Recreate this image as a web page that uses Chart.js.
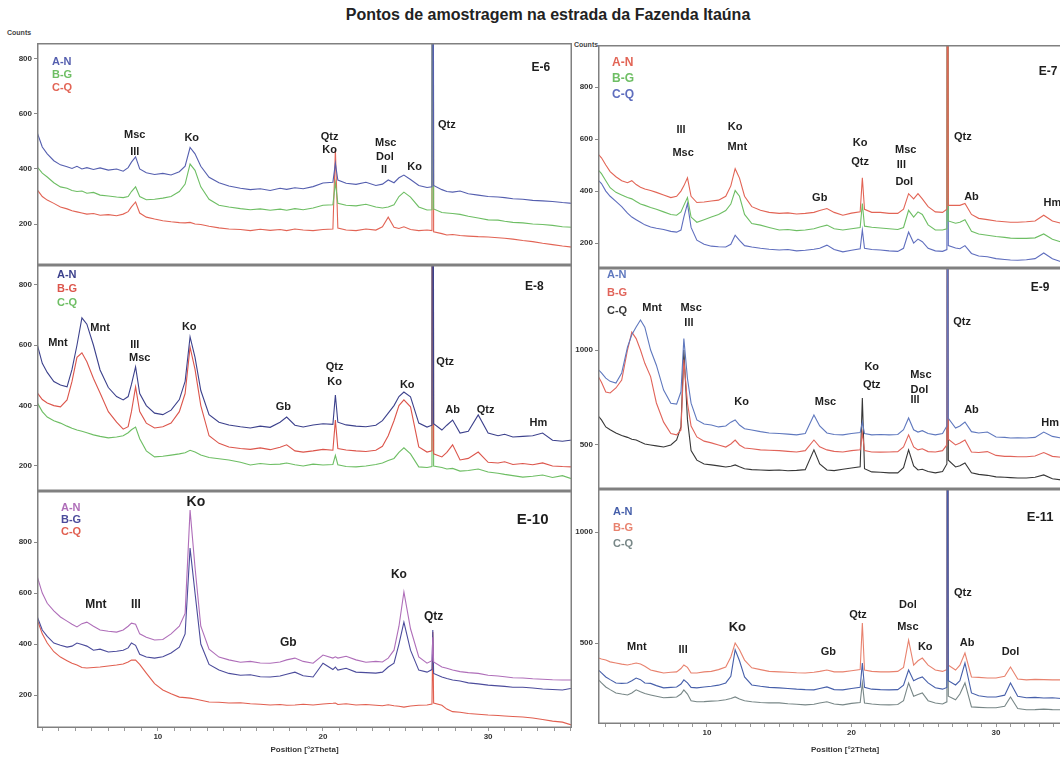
<!DOCTYPE html>
<html>
<head>
<meta charset="utf-8">
<script src="https://cdn.jsdelivr.net/npm/chart.js@4.4.1/dist/chart.umd.min.js"></script>
<style>
  html, body { margin: 0; padding: 0; background: #fff; overflow: hidden; }
  #wrap { position: relative; width: 1060px; height: 758px; overflow: hidden; background: #fff; }
  #wrap canvas { position: absolute; }
  .txt { position: absolute; font-family: "Liberation Sans", Arial, sans-serif; font-weight: bold; color: #222; white-space: nowrap; }
</style>
</head>
<body>
<div id="wrap">
  <div class="txt" style="left:0;width:1096px;top:6px;text-align:center;font-size:16px;">Pontos de amostragem na estrada da Fazenda Itaúna</div>
  <div class="txt" style="left:7px;top:29px;font-size:7px;color:#444;">Counts</div>
  <div class="txt" style="left:574px;top:41px;font-size:7px;color:#444;">Counts</div>
</div>
<script>
// XRD diffractograms - Fazenda Itaúna road sampling points

const FONT = '"Liberation Sans", Arial, Helvetica, sans-serif';

// position axis (°2Theta), shared by all traces
const twoTheta = [
  2.5, 2.7, 3.0, 3.3, 3.7, 4.1, 4.5, 4.8, 5.1, 5.4,
  5.7, 6.1, 6.5, 7.0, 7.5, 7.9, 8.2, 8.4, 8.65, 8.9,
  9.3, 9.8, 10.3, 10.8, 11.3, 11.65, 11.95, 12.25, 12.6, 13.1,
  13.7, 14.3, 15.0, 15.6, 16.2, 16.8, 17.4, 17.8, 18.3, 18.8,
  19.4, 20.0, 20.6, 20.75, 20.9, 21.4, 22.0, 22.6, 23.2, 23.6,
  23.95, 24.3, 24.6, 24.9, 25.3, 25.8, 26.3, 26.6, 26.65, 26.7,
  27.2, 27.5, 27.85, 28.3, 28.8, 29.4, 30.0, 30.6, 31.0, 31.5,
  32.1, 32.7, 33.3, 33.9, 34.5, 35.1, 36.0, 36.6
];

const legendNames = ['A-N', 'B-G', 'C-Q'];
const xTickLabels = [10, 20, 30];

// E-6
const e6AN = [
  560, 531, 480, 455, 430, 415, 408, 402, 410, 400,
  405, 398, 404, 396, 400, 392, 405, 425, 444, 400,
  386, 380, 384, 378, 390, 410, 478, 455, 410, 370,
  350, 338, 330, 325, 328, 322, 330, 326, 332, 328,
  336, 349, 352, 420, 360, 348, 344, 352, 340, 345,
  360, 350, 368, 378, 362, 340, 333, 335, 3000, 340,
  325, 318, 316, 320, 310, 305, 300, 298, 296, 292,
  290, 286, 284, 282, 278, 275, 272, 270
];
const e6BG = [
  430, 407, 385, 371, 350, 335, 330, 322, 318, 320,
  312, 315, 305, 302, 298, 296, 300, 318, 335, 300,
  288, 290, 294, 300, 318, 345, 418, 395, 335, 290,
  268, 262, 256, 252, 255, 250, 254, 250, 256, 252,
  258, 268, 270, 350, 275, 268, 266, 272, 262, 258,
  262, 270, 300, 316, 298, 262, 251, 252, 3000, 255,
  242, 240, 238, 235, 228, 222, 215, 214, 210, 206,
  204, 200, 198, 195, 190, 188, 185, 183
];
const e6CQ = [
  345, 324, 300, 287, 275, 262, 255, 248, 244, 240,
  236, 238, 232, 234, 230, 236, 245, 262, 280, 240,
  225, 218, 212, 208, 205, 204, 206, 200, 198, 192,
  186, 182, 180, 176, 181, 177, 180, 176, 182, 178,
  176, 180, 182, 470, 185, 178, 176, 182, 178, 190,
  225, 188, 184, 190, 180, 176, 178, 176, 3000, 172,
  165, 160, 162, 158, 156, 154, 153, 150, 148, 145,
  140, 136, 130, 125, 120, 116, 112, 110
];

// E-7
const e7AN = [
  540, 528, 500, 475, 455, 440, 432, 440, 425, 415,
  408, 402, 395, 385, 375, 380, 400, 420, 451, 380,
  356, 358, 362, 365, 380, 420, 486, 450, 380, 340,
  326, 318, 314, 316, 312, 314, 318, 325, 333, 318,
  307, 315, 320, 451, 330, 318, 318, 314, 314, 330,
  390, 370, 390, 370, 340, 320, 318, 330, 3000, 345,
  345, 345, 352, 310, 295, 290, 285, 282, 280, 280,
  282, 285, 307, 285, 276, 275, 272, 270
];
const e7BG = [
  480, 467, 440, 413, 395, 385, 375, 370, 360, 350,
  345, 337, 330, 320, 310, 307, 320, 345, 375, 300,
  280, 290, 300, 310, 325, 350, 402, 380, 310, 275,
  269, 260, 250, 252, 248, 250, 255, 262, 269, 255,
  250, 255, 260, 352, 265, 261, 258, 255, 252, 260,
  326, 300, 320, 310, 270, 250, 250, 255, 3000, 285,
  276, 280, 290, 245, 235, 230, 225, 222, 219, 218,
  218, 220, 235, 215, 204, 205, 202, 200
];
const e7CQ = [
  440, 429, 400, 380, 360, 340, 315, 300, 290, 280,
  270, 262, 257, 252, 245, 242, 250, 300, 352, 260,
  211, 195, 188, 186, 185, 195, 230, 210, 190, 185,
  180, 176, 173, 175, 170, 172, 176, 180, 192, 175,
  166, 172, 178, 250, 180, 175, 173, 170, 168, 180,
  242, 200, 215, 205, 180, 170, 168, 175, 3000, 190,
  181, 178, 190, 160, 150, 147, 140, 137, 135, 134,
  136, 140, 162, 140, 128, 130, 126, 125
];

// E-8
const e8AN = [
  640, 601, 540, 510, 480, 468, 462, 520, 600, 691,
  670, 600, 518, 460, 430, 419, 430, 470, 528, 440,
  400, 375, 370, 385, 420, 480, 628, 560, 450, 370,
  345, 336, 330, 326, 332, 328, 345, 362, 335, 329,
  336, 340, 338, 435, 345, 336, 332, 330, 335, 350,
  375, 400, 430, 445, 429, 342, 329, 335, 3000, 340,
  319, 335, 352, 309, 315, 369, 309, 300, 305, 296,
  298, 300, 309, 285, 282, 286, 280, 278
];
const e8BG = [
  470, 442, 420, 409, 400, 396, 419, 480, 560, 575,
  545, 490, 442, 380, 345, 322, 330, 380, 462, 380,
  342, 326, 330, 342, 380, 440, 594, 520, 400, 300,
  275, 263, 258, 255, 260, 254, 262, 270, 250, 246,
  250, 255, 252, 352, 258, 253, 250, 248, 252, 265,
  300, 350, 400, 419, 396, 263, 246, 250, 3000, 240,
  230, 245, 270, 220, 225, 246, 212, 210, 214, 205,
  208, 204, 210, 200, 198, 197, 195, 194
];
const e8CQ = [
  440, 409, 380, 362, 350, 342, 332, 325, 319, 315,
  310, 303, 298, 293, 296, 300, 310, 320, 329, 290,
  250, 230, 232, 236, 240, 244, 252, 246, 236, 228,
  224, 220, 212, 203, 208, 205, 206, 210, 204, 200,
  206, 203, 205, 235, 204, 198, 197, 200, 205, 210,
  218, 225, 245, 260, 240, 197, 195, 198, 3000, 200,
  195, 190, 192, 183, 185, 190, 180, 176, 172, 168,
  163, 166, 170, 162, 168, 157, 152, 150
];

// E-9
const e9AN = [
  895, 880, 852, 835, 826, 879, 1015, 1080, 1121, 1158,
  1120, 1000, 920, 789, 720, 715, 780, 1060, 850, 720,
  632, 610, 605, 595, 600, 620, 632, 605, 585, 579,
  570, 563, 560, 557, 553, 560, 658, 600, 563, 555,
  553, 560, 565, 620, 560, 553, 555, 553, 555, 580,
  642, 580, 568, 575, 560, 553, 560, 600, 3000, 640,
  589, 600, 621, 570, 563, 568, 542, 540, 537, 538,
  537, 540, 568, 545, 537, 535, 526, 524
];
const e9BG = [
  858, 830, 779, 774, 800, 842, 1000, 1094, 1060, 1000,
  930, 860, 721, 620, 560, 553, 579, 950, 720, 600,
  542, 520, 511, 500, 489, 505, 526, 500, 484, 480,
  474, 472, 470, 466, 463, 470, 526, 490, 474, 466,
  463, 470, 475, 563, 470, 463, 462, 463, 465, 490,
  553, 490, 474, 480, 465, 463, 470, 500, 3000, 530,
  500, 510, 526, 463, 460, 465, 445, 440, 440, 438,
  438, 442, 460, 440, 435, 433, 430, 428
];
const e9CQ = [
  650, 632, 595, 580, 563, 550, 540, 530, 526, 515,
  505, 500, 495, 489, 500, 526, 595, 1000, 632, 470,
  420, 400, 395, 390, 384, 388, 395, 385, 375, 370,
  368, 366, 368, 364, 366, 370, 474, 400, 368, 365,
  372, 379, 385, 747, 375, 358, 356, 353, 353, 380,
  474, 390, 368, 372, 360, 353, 360, 400, 3000, 420,
  384, 390, 405, 353, 345, 340, 332, 330, 328, 326,
  326, 330, 342, 322, 316, 312, 305, 302
];

// E-10
const e10AN = [
  700, 663, 600, 560, 530, 506, 490, 478, 467, 480,
  486, 470, 455, 450, 447, 455, 470, 482, 478, 440,
  427, 416, 418, 440, 470, 520, 925, 700, 470, 380,
  349, 338, 329, 332, 326, 325, 330, 338, 345, 332,
  325, 357, 345, 350, 345, 352, 338, 329, 332, 330,
  345, 376, 470, 604, 460, 350, 325, 335, 427, 330,
  310, 305, 298, 292, 288, 285, 278, 275, 272, 268,
  267, 264, 262, 260, 259, 259, 258, 256
];
const e10BG = [
  540, 506, 455, 430, 404, 395, 388, 392, 404, 398,
  392, 376, 380, 369, 372, 376, 385, 404, 395, 360,
  349, 345, 350, 365, 388, 440, 776, 600, 400, 320,
  298, 285, 278, 280, 272, 271, 275, 282, 290, 276,
  271, 325, 300, 310, 298, 305, 290, 288, 286, 290,
  310, 325, 400, 486, 376, 298, 290, 300, 455, 285,
  271, 265, 259, 255, 248, 244, 239, 236, 234, 231,
  231, 228, 224, 222, 220, 227, 222, 220
];
const e10CQ = [
  520, 494, 440, 404, 370, 349, 335, 325, 318, 308,
  306, 308, 310, 314, 318, 322, 330, 337, 337, 320,
  286, 245, 220, 205, 192, 190, 188, 185, 180, 173,
  172, 169, 170, 166, 164, 161, 163, 160, 161, 164,
  161, 165, 168, 169, 163, 166, 161, 163, 160, 158,
  162, 158, 156, 153, 157, 160, 161, 165, 447, 169,
  160, 145, 135, 133, 128, 125, 122, 120, 118, 116,
  114, 110, 104, 98, 94, 82, 78, 76
];

// E-11
const e11AN = [
  378, 365, 347, 335, 320, 318, 320, 330, 342, 335,
  320, 318, 308, 298, 300, 302, 315, 334, 320, 300,
  298, 302, 305, 310, 320, 350, 469, 420, 347, 311,
  305, 300, 298, 295, 292, 290, 289, 295, 302, 290,
  289, 295, 300, 410, 300, 292, 290, 289, 290, 310,
  378, 330, 340, 347, 320, 298, 292, 300, 3000, 330,
  311, 330, 410, 275, 262, 257, 257, 265, 320, 260,
  253, 255, 252, 253, 250, 252, 250, 248
];
const e11BG = [
  432, 428, 423, 415, 410, 405, 401, 405, 410, 405,
  395, 378, 372, 365, 368, 370, 385, 401, 390, 365,
  365, 370, 372, 380, 392, 437, 500, 470, 423, 388,
  380, 372, 370, 368, 366, 365, 368, 372, 378, 370,
  370, 375, 380, 590, 378, 372, 370, 370, 372, 390,
  513, 400, 420, 432, 400, 378, 372, 380, 3000, 400,
  378, 400, 455, 347, 345, 342, 342, 350, 392, 338,
  334, 336, 335, 334, 334, 333, 332, 330
];
const e11CQ = [
  334, 320, 302, 290, 275, 270, 266, 275, 289, 280,
  272, 266, 260, 253, 255, 257, 270, 289, 270, 240,
  235, 236, 238, 240, 244, 250, 257, 248, 240, 235,
  232, 230, 230, 226, 224, 221, 224, 230, 235, 225,
  221, 228, 232, 320, 230, 225, 222, 221, 223, 240,
  320, 260, 268, 275, 240, 230, 225, 235, 3000, 260,
  244, 270, 320, 212, 210, 208, 208, 215, 257, 205,
  199, 200, 202, 200, 199, 199, 198, 197
];

// count axis ticks
const yTicksE6 = [200, 400, 600, 800];
const yTicksE7 = [200, 400, 600, 800];
const yTicksE8 = [200, 400, 600, 800];
const yTicksE9 = [500, 1000];
const yTicksE10 = [200, 400, 600, 800];
const yTicksE11 = [500, 1000];

// mineral peak labels: [text, °2Theta, counts, font size]
const labelsE6 = [
  ['Msc', 8.6, 524], ['Ill', 8.6, 462], ['Ko', 12.05, 513],
  ['Qtz', 20.4, 516], ['Ko', 20.4, 469],
  ['Msc', 23.8, 494], ['Dol', 23.75, 444], ['Il', 23.7, 396],
  ['Ko', 25.55, 407], ['Qtz', 27.5, 560], ['E-6', 33.2, 767, 12]
];
const labelsE7 = [
  ['Ill', 8.2, 635], ['Msc', 8.35, 546], ['Ko', 11.95, 646], ['Mnt', 12.1, 569],
  ['Gb', 17.8, 373], ['Ko', 20.6, 585], ['Qtz', 20.6, 512],
  ['Msc', 23.75, 558], ['Ill', 23.45, 500], ['Dol', 23.65, 435],
  ['Qtz', 27.7, 608], ['Ab', 28.3, 377], ['Hm', 33.9, 354], ['E-7', 33.6, 858, 12]
];
const labelsE8 = [
  ['Mnt', 3.95, 608], ['Mnt', 6.5, 657], ['Ill', 8.6, 601], ['Msc', 8.9, 558],
  ['Ko', 11.9, 661], ['Gb', 17.6, 396], ['Qtz', 20.7, 528], ['Ko', 20.7, 478],
  ['Ko', 25.1, 468], ['Qtz', 27.4, 545], ['Ab', 27.85, 386], ['Qtz', 29.85, 386],
  ['Hm', 33.05, 343], ['E-8', 32.8, 793, 12]
];
const labelsE9 = [
  ['Mnt', 6.2, 1221], ['Msc', 8.9, 1221], ['Ill', 8.75, 1142],
  ['Ko', 12.4, 726], ['Msc', 18.2, 726], ['Ko', 21.4, 911], ['Qtz', 21.4, 816],
  ['Msc', 24.8, 868], ['Dol', 24.7, 789], ['Ill', 24.4, 737],
  ['Qtz', 27.65, 1147], ['Ab', 28.3, 684], ['Hm', 33.75, 616], ['E-9', 33.05, 1326, 12]
];
const labelsE10 = [
  ['Ko', 12.3, 957, 14], ['Mnt', 6.25, 553, 12], ['Ill', 8.67, 553, 12],
  ['Gb', 17.9, 404, 12], ['Ko', 24.6, 671, 12], ['Qtz', 26.7, 506, 12],
  ['E-10', 32.7, 886, 15]
];
const labelsE11 = [
  ['Mnt', 5.15, 482], ['Ill', 8.35, 468], ['Ko', 12.1, 568, 13], ['Gb', 18.4, 459],
  ['Qtz', 20.45, 626], ['Dol', 23.9, 671], ['Msc', 23.9, 572], ['Ko', 25.1, 482],
  ['Qtz', 27.7, 725], ['Ab', 28.0, 500], ['Dol', 31.0, 459], ['E-11', 33.05, 1067, 13]
];

const BLUE = 'rgb(85, 95, 175)';
const GREEN = 'rgb(110, 190, 100)';
const RED = 'rgb(226, 100, 85)';

// panel layout (page pixels) and styling
const panels = [
  { id: 'E6', left: 0, top: 43, w: 573, h: 223, axisW: 37, xMin: 2.68, xMax: 35.08, yMin: 51, yMax: 858,
    yTicks: yTicksE6, series: [e6AN, e6BG, e6CQ], colors: [BLUE, GREEN, RED], labels: labelsE6,
    legend: { dx: 15, dy: 19, gap: 13, size: 11 } },
  { id: 'E8', left: 0, top: 265, w: 573, h: 227, axisW: 37, xMin: 2.68, xMax: 35.08, yMin: 117, yMax: 866,
    yTicks: yTicksE8, series: [e8AN, e8BG, e8CQ], colors: ['rgb(60, 65, 140)', 'rgb(220, 85, 75)', GREEN], labels: labelsE8,
    legend: { dx: 20, dy: 10, gap: 14, size: 11 } },
  { id: 'E10', left: 0, top: 491, w: 573, h: 267, axisW: 37, xMin: 2.68, xMax: 35.08, yMin: 71, yMax: 1000,
    yTicks: yTicksE10, series: [e10AN, e10BG, e10CQ], colors: ['rgb(175, 110, 185)', 'rgb(75, 75, 155)', 'rgb(225, 95, 80)'], labels: labelsE10,
    legend: { dx: 24, dy: 17, gap: 12, size: 11 }, bottom: true },
  { id: 'E7', left: 560, top: 45, w: 533, h: 224, axisW: 38, xMin: 2.46, xMax: 36.64, yMin: 104, yMax: 962,
    yTicks: yTicksE7, series: [e7AN, e7BG, e7CQ], colors: [RED, GREEN, 'rgb(95, 110, 190)'], labels: labelsE7,
    legend: { dx: 14, dy: 18, gap: 16, size: 12 } },
  { id: 'E9', left: 560, top: 268, w: 533, h: 222, axisW: 38, xMin: 2.46, xMax: 36.64, yMin: 268, yMax: 1432,
    yTicks: yTicksE9, series: [e9AN, e9BG, e9CQ], colors: ['rgb(95, 120, 190)', 'rgb(225, 100, 90)', 'rgb(55, 55, 55)'], labels: labelsE9,
    legend: { dx: 9, dy: 7, gap: 18, size: 11 } },
  { id: 'E11', left: 560, top: 489, w: 533, h: 269, axisW: 38, xMin: 2.46, xMax: 36.64, yMin: 135, yMax: 1194,
    yTicks: yTicksE11, series: [e11AN, e11BG, e11CQ], colors: ['rgb(70, 95, 170)', 'rgb(232, 130, 110)', 'rgb(120, 135, 135)'], labels: labelsE11,
    legend: { dx: 15, dy: 23, gap: 16, size: 11 }, bottom: true }
];

const panelById = {};
panels.forEach(p => { panelById[p.id] = p; });

// frame, peak labels and the coloured sample legend
const panelDeco = {
  id: 'panelDeco',
  afterDatasetsDraw(chart) {
    const p = panelById[chart.canvas.id];
    const { ctx, chartArea: a } = chart;
    const xs = chart.scales.x, ys = chart.scales.y;
    ctx.save();
    ctx.strokeStyle = '#808080';
    ctx.lineWidth = 1.5;
    ctx.strokeRect(a.left + 0.75, a.top + 0.75, a.right - a.left - 1.5, a.bottom - a.top - 1.5);

    ctx.textAlign = 'center';
    ctx.textBaseline = 'middle';
    ctx.fillStyle = '#1e1e1e';
    p.labels.forEach(([txt, th, c, size]) => {
      ctx.font = 'bold ' + (size || 11) + 'px ' + FONT;
      ctx.fillText(txt, xs.getPixelForValue(th), ys.getPixelForValue(c));
    });

    ctx.textAlign = 'left';
    ctx.font = 'bold ' + p.legend.size + 'px ' + FONT;
    legendNames.forEach((name, i) => {
      ctx.fillStyle = p.colors[i];
      ctx.fillText(name, a.left + p.legend.dx, a.top + p.legend.dy + i * p.legend.gap);
    });
    ctx.restore();
  }
};

Chart.defaults.font.family = FONT;

function makePanel(p) {
  const wrap = document.getElementById('wrap');
  const canvas = document.createElement('canvas');
  canvas.id = p.id;
  canvas.width = p.w;
  canvas.height = p.h;
  canvas.style.left = p.left + 'px';
  canvas.style.top = p.top + 'px';
  canvas.style.width = p.w + 'px';
  canvas.style.height = p.h + 'px';
  wrap.appendChild(canvas);

  const xScale = {
    type: 'linear',
    min: p.xMin,
    max: p.xMax,
    display: !!p.bottom,
    afterBuildTicks: s => {
      const t = [];
      for (let v = 3; v <= Math.floor(p.xMax); v++) t.push({ value: v });
      s.ticks = t;
    },
    afterFit: s => {
      if (p.bottom) s.height = p.h - (p.id === 'E10' ? 237 : 235);
      s.paddingLeft = 0;
      s.paddingRight = 0;
    },
    ticks: {
      autoSkip: false,
      maxRotation: 0,
      padding: 1,
      color: '#333',
      font: { size: 8, weight: 'bold' },
      callback: v => xTickLabels.includes(v) ? String(v) : ''
    },
    grid: { drawOnChartArea: false, tickLength: 3, color: '#999' },
    border: { display: false },
    title: {
      display: true,
      text: 'Position [°2Theta]',
      color: '#333',
      font: { size: 8, weight: 'bold' },
      padding: { top: 0, bottom: 3 }
    }
  };

  new Chart(canvas, {
    type: 'line',
    data: {
      datasets: p.series.map((vals, i) => ({
        label: legendNames[i],
        data: twoTheta.map((t, k) => ({ x: t, y: vals[k] })),
        borderColor: p.colors[i],
        borderWidth: 1.1,
        pointRadius: 0,
        tension: 0,
        fill: false
      }))
    },
    options: {
      responsive: false,
      animation: false,
      devicePixelRatio: 1,
      events: [],
      layout: { padding: { top: 0, left: 0, right: 1, bottom: p.bottom ? 0 : 1 } },
      plugins: { legend: { display: false }, tooltip: { enabled: false } },
      scales: {
        x: xScale,
        y: {
          min: p.yMin,
          max: p.yMax,
          afterBuildTicks: s => { s.ticks = p.yTicks.map(v => ({ value: v })); },
          afterFit: s => { s.width = p.axisW; s.paddingTop = 0; s.paddingBottom = 0; },
          ticks: {
            padding: 2,
            color: '#333',
            font: { size: 8, weight: 'bold' },
            callback: v => String(v)
          },
          grid: { drawOnChartArea: false, tickLength: 3, color: '#888' },
          border: { display: false }
        }
      }
    },
    plugins: [panelDeco]
  });
}

panels.forEach(makePanel);
</script>
</body>
</html>
